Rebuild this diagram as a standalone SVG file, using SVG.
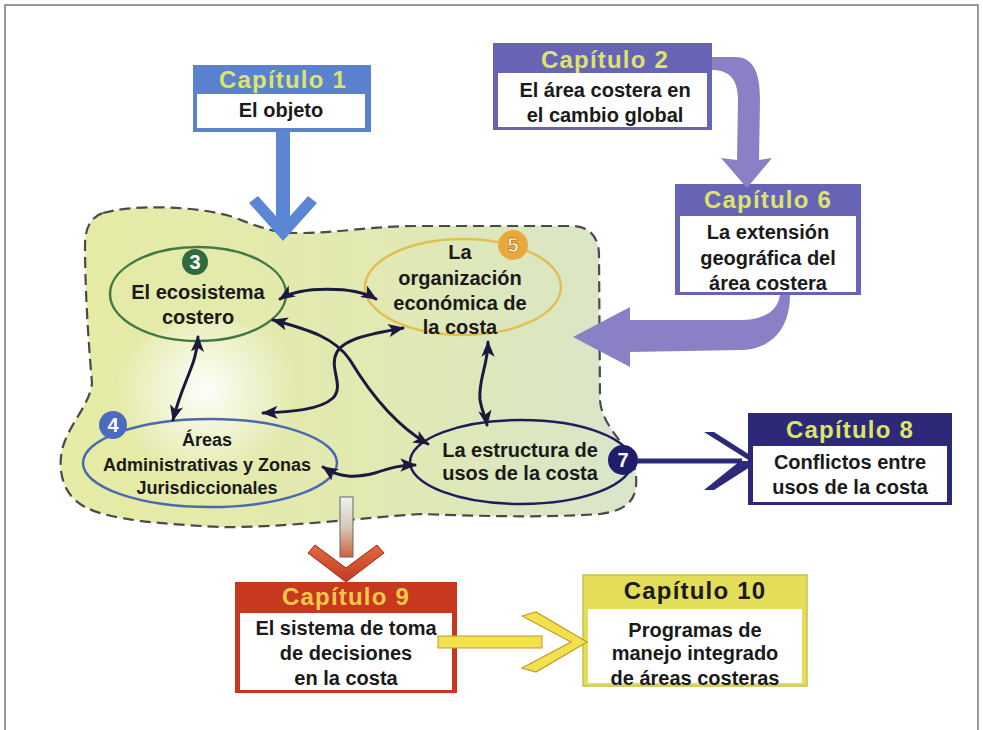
<svg xmlns="http://www.w3.org/2000/svg" width="983" height="730" viewBox="0 0 983 730">
<defs>
<style>
.t{font-family:"Liberation Sans",Arial,sans-serif;font-weight:bold;font-size:20px;fill:#1a1a1a;text-anchor:middle}
.s{font-size:18px}
.h{font-family:"Liberation Sans",Arial,sans-serif;font-weight:bold;font-size:24px;letter-spacing:1.2px;text-anchor:middle}
.n{font-family:"Liberation Sans",Arial,sans-serif;font-weight:bold;font-size:20px;text-anchor:middle;fill:#fff}
.c{fill:none;stroke:#1b1a3e;stroke-width:3;stroke-linecap:round;marker-start:url(#ah);marker-end:url(#ah)}
.wb{fill:#fff}
</style>
<marker id="ah" viewBox="0 0 12 10" refX="11" refY="5" markerWidth="16" markerHeight="14" markerUnits="userSpaceOnUse" orient="auto-start-reverse">
<path d="M0,0 L12,5 L0,10 L3,5 Z" fill="#1b1a3e"/>
</marker>
<linearGradient id="blobg" x1="0" y1="0" x2="1" y2="0">
<stop offset="0" stop-color="#e6eba4"/>
<stop offset="0.55" stop-color="#e2e9b2"/>
<stop offset="1" stop-color="#d8e5ca"/>
</linearGradient>
<radialGradient id="glow" cx="205" cy="390" r="90" gradientUnits="userSpaceOnUse">
<stop offset="0" stop-color="#ffffff" stop-opacity="0.95"/>
<stop offset="1" stop-color="#ffffff" stop-opacity="0"/>
</radialGradient>
<linearGradient id="downg" x1="0" y1="0" x2="0" y2="1">
<stop offset="0" stop-color="#eef2f0"/>
<stop offset="0.5" stop-color="#d8c8b8"/>
<stop offset="1" stop-color="#d0603e"/>
</linearGradient>
<linearGradient id="redg" x1="0" y1="0" x2="0" y2="1">
<stop offset="0" stop-color="#e06a40"/>
<stop offset="1" stop-color="#c43a20"/>
</linearGradient>
</defs>
<rect width="983" height="730" fill="#fff"/>
<rect x="5" y="5" width="973" height="740" fill="none" stroke="#7a7a7a" stroke-width="1.5"/>

<g id="region">
<path d="M103,213 C130,205 190,205 230,216 C255,225 270,233 300,233 C340,233 370,226 420,226 L572,226 C590,226 599,238 599,255 L600,400 C602,430 632,445 636,475 C638,500 628,510 600,514 C540,518 480,516 420,514 C360,518 280,528 220,527 C160,524 110,520 85,507 C62,495 58,470 62,450 C68,425 90,405 92,383 C90,360 85,300 85,245 C85,225 93,216 103,213 Z" fill="url(#blobg)" stroke="#4a4a4a" stroke-width="2.2" stroke-dasharray="11,6"/>
<ellipse cx="210" cy="395" rx="95" ry="75" fill="url(#glow)"/>
</g>

<g id="cap1">
<rect x="193" y="65" width="178" height="67" fill="#5a82cf"/>
<rect x="197" y="94" width="168" height="34" class="wb"/>
<text class="h" x="283" y="88" fill="#dce46a">Capítulo 1</text>
<text class="t" x="281" y="117">El objeto</text>
</g>

<g id="cap2">
<rect x="493" y="43" width="219" height="87" fill="#6764b6"/>
<rect x="498" y="73" width="209" height="54" class="wb"/>
<text class="h" x="605" y="68" fill="#dce46a">Capítulo 2</text>
<text class="t" x="605" y="97">El área costera en</text>
<text class="t" x="605" y="122">el cambio global</text>
</g>

<g id="cap6">
<rect x="675" y="184" width="186" height="111" fill="#6764b6"/>
<rect x="680" y="216" width="176" height="76" class="wb"/>
<text class="h" x="768" y="208" fill="#dce46a">Capítulo 6</text>
<text class="t" x="768" y="239">La extensión</text>
<text class="t" x="768" y="265">geográfica del</text>
<text class="t" x="768" y="290">área costera</text>
</g>

<g id="cap8">
<rect x="748" y="413" width="204" height="92" fill="#2c2a78"/>
<rect x="753" y="446" width="194" height="56" class="wb"/>
<text class="h" x="850" y="438" fill="#dce46a">Capítulo 8</text>
<text class="t" x="850" y="469">Conflictos entre</text>
<text class="t" x="850" y="494">usos de la costa</text>
</g>

<g id="cap9">
<rect x="235" y="582" width="222" height="111" fill="#c8381e"/>
<rect x="240" y="613" width="212" height="77" class="wb"/>
<text class="h" x="346" y="605" fill="#f4c94a">Capítulo 9</text>
<text class="t" x="346" y="635">El sistema de toma</text>
<text class="t" x="346" y="660">de decisiones</text>
<text class="t" x="346" y="685">en la costa</text>
</g>

<g id="cap10">
<rect x="583" y="575" width="224" height="111" fill="#e3dd5a" stroke="#c8c24a" stroke-width="1.5"/>
<rect x="588" y="609" width="214" height="74" class="wb"/>
<text class="h" x="695" y="599" fill="#1a1a1a">Capítulo 10</text>
<text class="t" x="695" y="637">Programas de</text>
<text class="t" x="695" y="660">manejo integrado</text>
<text class="t" x="695" y="685">de áreas costeras</text>
</g>

<g id="n3">
<ellipse cx="198" cy="294" rx="88" ry="47" fill="none" stroke="#3f7a44" stroke-width="2.5"/>
<circle cx="195" cy="262" r="13" fill="#2f6b3c"/>
<text class="n" x="195" y="269">3</text>
<text class="t" x="198" y="299">El ecosistema</text>
<text class="t" x="198" y="324">costero</text>
</g>

<g id="n5">
<ellipse cx="463" cy="287" rx="98" ry="48" fill="none" stroke="#e0c050" stroke-width="2.5"/>
<circle cx="513" cy="245" r="15" fill="#e9a93a"/>
<text class="n" x="513" y="252" fill="#f8d88a" stroke="#b8801c" stroke-width="0.8">5</text>
<text class="t" x="460" y="259">La</text>
<text class="t" x="460" y="285">organización</text>
<text class="t" x="460" y="310">económica de</text>
<text class="t" x="460" y="334">la costa</text>
</g>

<g id="n4">
<ellipse cx="210" cy="463" rx="127" ry="44" fill="none" stroke="#4a6ab0" stroke-width="2.5"/>
<circle cx="113" cy="425" r="14" fill="#4a6cc0"/>
<text class="n" x="113" y="432">4</text>
<text class="t s" x="207" y="446">Áreas</text>
<text class="t s" x="207" y="471">Administrativas y Zonas</text>
<text class="t s" x="207" y="494">Jurisdiccionales</text>
</g>

<g id="n7">
<ellipse cx="521" cy="462" rx="111" ry="42" fill="none" stroke="#1e1e5e" stroke-width="2.5"/>
<circle cx="623" cy="460" r="15" fill="#1e1e6a"/>
<text class="n" x="623" y="467">7</text>
<text class="t" x="520" y="457">La estructura de</text>
<text class="t" x="520" y="480">usos de la costa</text>
</g>

<g id="connectors">
<path class="c" d="M280,299 C300,286 355,286 376,299"/>
<path class="c" d="M198,337 C197,365 183,380 173,420"/>
<path class="c" d="M273,320 C310,330 335,338 350,360 C368,390 395,425 428,444"/>
<path class="c" d="M403,328 C375,333 345,338 337,352 C328,368 345,385 333,398 C320,410 290,412 263,413"/>
<path class="c" d="M488,342 C488,365 478,380 480,400 C482,412 486,418 487,425"/>
<path class="c" d="M323,467 C340,478 355,478 375,473 C390,468 400,465 415,465"/>
<rect x="276" y="132" width="14" height="95" fill="#5b86d6"/>
<polygon points="283,241 249,203 258,196 283,224 308,196 317,203" fill="#5b86d6"/>
<path d="M712,57 L735,57 C755,57 760,75 760,100 L759,160 L772,158 L747,188 L721,158 L737,160 L738,100 C738,80 730,70 712,70 Z" fill="#8a80c6"/>
<path d="M790,295 C790,330 770,350 740,350 L630,352 L630,367 L573,337 L630,307 L630,320 L740,320 C765,320 778,310 780,295 Z" fill="#8a80c6"/>
<line x1="637" y1="461" x2="742" y2="461" stroke="#2c2a78" stroke-width="5"/>
<polygon points="750,461 704,432 714,432 750,455 750,467 714,490 704,490 740,461" fill="#2c2a78"/>
<rect x="340" y="497" width="13" height="60" fill="url(#downg)" stroke="#666" stroke-width="1"/>
<polygon points="346,582 308,553 315,545 346,568 377,545 384,553" fill="url(#redg)" stroke="#9a2a18" stroke-width="1"/>
<rect x="438" y="636" width="104" height="12" fill="#f1e24c" stroke="#c8962e" stroke-width="1"/>
<polygon points="522,616 536,612 587,642 536,672 522,668 571,642" fill="#f1e24c" stroke="#c8962e" stroke-width="1.2"/>
</g>
</svg>
